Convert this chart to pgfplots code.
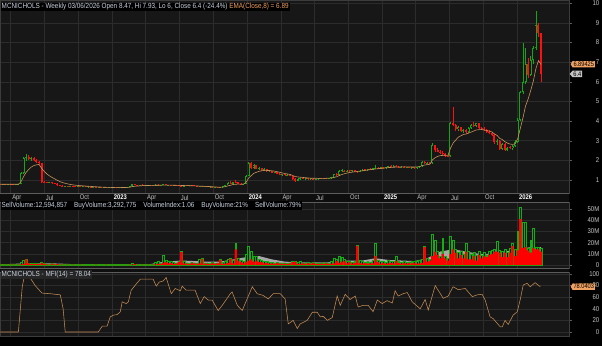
\documentclass[border=0pt]{standalone}
\usepackage{pgfplots}
\pgfplotsset{compat=1.18}
\usepackage{pgfplotstable}
\usepackage{fontspec}
\setmainfont{Liberation Sans}
\newfontfamily\cf[FakeStretch=0.86]{Liberation Sans}
\usetikzlibrary{shapes.symbols}
\definecolor{panelbg}{HTML}{171717}
\definecolor{gridc}{HTML}{2C2C2C}
\definecolor{framec}{HTML}{3C3C3C}
\definecolor{stripc}{HTML}{0E0E0E}
\definecolor{stripline}{HTML}{5C5C5C}
\definecolor{cgreen}{HTML}{12A812}
\definecolor{cred}{HTML}{FF1010}
\definecolor{vgreen}{HTML}{10B010}
\definecolor{vred}{HTML}{FF0000}
\definecolor{vgray}{HTML}{A6A6A6}
\definecolor{emac}{HTML}{C8925C}
\definecolor{mfic}{HTML}{C48C54}
\definecolor{txt}{HTML}{C8D0DE}
\definecolor{lab}{HTML}{C4C4C4}
\definecolor{orng}{HTML}{F0A060}

\pgfplotstableread{
i o h l c v s
0 .80 .82 .76 .78 .6 .4
1 .78 .80 .76 .79 .5 .2
2 .79 .80 .75 .76 .5 .3
3 .76 .78 .74 .77 .4 .2
4 .77 .79 .75 .76 .5 .3
5 .76 .78 .74 .75 .6 .4
6 .75 .77 .73 .76 .5 .2
7 .76 .80 .74 .78 .8 .3
8 .78 1.40 .77 1.35 2.5 .6
9 1.35 2.15 1.30 2.10 4.5 1.0
10 2.10 2.30 1.98 2.15 5.4 5.0
11 2.15 2.25 2.00 2.05 2.0 1.5
12 2.05 2.15 1.98 2.10 1.5 .8
13 2.10 2.15 1.95 2.00 1.2 .9
14 2.00 2.05 1.85 1.90 1.3 1.0
15 1.90 1.95 1.80 1.85 1.0 .7
16 1.85 1.88 .85 .90 2.2 2.0
17 .90 .95 .85 .88 1.2 1.0
18 .88 .92 .84 .86 .8 .6
19 .86 .90 .83 .87 .7 .4
20 .87 .90 .82 .84 1.5 1.2
21 .84 .86 .80 .82 .8 .6
22 .82 .84 .70 .72 1.0 .8
23 .72 .75 .68 .70 .6 .4
24 .70 .72 .66 .68 .5 .4
25 .68 .71 .66 .69 .4 .2
26 .69 .70 .66 .68 .4 .3
27 .68 .70 .66 .68 .3 .2
28 .68 .69 .65 .67 .4 .3
29 .67 .69 .65 .66 .3 .2
30 .66 .68 .64 .67 .3 .2
31 .67 .68 .64 .65 .4 .3
32 .65 .67 .63 .66 .3 .2
33 .66 .67 .63 .64 .3 .2
34 .64 .66 .62 .65 .4 .2
35 .65 .66 .62 .63 .3 .2
36 .63 .65 .61 .64 .3 .2
37 .64 .65 .61 .62 .4 .3
38 .62 .64 .60 .63 .3 .2
39 .63 .64 .60 .61 .3 .2
40 .61 .63 .59 .62 .3 .2
41 .62 .63 .59 .60 .4 .3
42 .60 .62 .58 .61 .3 .2
43 .61 .62 .58 .60 .3 .2
44 .60 .62 .58 .61 .3 .2
45 .61 .62 .59 .60 .3 .2
46 .60 .62 .58 .61 .4 .2
47 .61 .63 .59 .60 .3 .2
48 .60 .62 .58 .61 .3 .2
49 .61 .66 .60 .65 .6 .2
50 .65 .70 .63 .68 .8 .3
51 .68 .82 .66 .78 1.5 .4
52 .78 .80 .72 .74 1.0 .7
53 .74 .76 .71 .72 .6 .4
54 .72 .76 .70 .75 .5 .2
55 .75 .77 .72 .73 .5 .3
56 .73 .76 .71 .74 .4 .2
57 .74 .75 .70 .71 .5 .3
58 .71 .74 .70 .73 .4 .2
59 .73 .75 .70 .72 .5 .3
60 .72 .78 .71 .76 2.5 .5
61 .76 .78 .72 .73 3.0 1.2
62 .73 .76 .71 .75 2.0 .8
63 .75 .80 .73 .77 9.0 2.0
64 .77 .78 .72 .73 4.0 2.5
65 .73 .76 .71 .74 3.5 1.5
66 .74 .76 .70 .71 3.0 2.0
67 .71 .74 .70 .73 2.5 1.0
68 .73 .75 .70 .72 2.0 1.2
69 .72 .74 .69 .70 3.0 2.5
70 .70 .72 .66 .68 12.0 11.5
71 .68 .72 .67 .71 3.0 1.5
72 .71 .73 .68 .70 2.0 1.2
73 .70 .73 .68 .72 1.5 .8
74 .72 .74 .69 .70 2.5 1.8
75 .70 .72 .67 .69 2.0 1.4
76 .69 .71 .66 .67 1.5 1.0
77 .67 .70 .65 .69 5.0 1.5
78 .69 .70 .65 .66 6.0 5.5
79 .66 .68 .64 .67 2.0 1.2
80 .67 .68 .63 .64 1.8 1.3
81 .64 .66 .62 .65 1.5 .8
82 .65 .66 .61 .62 2.5 2.0
83 .62 .64 .60 .63 1.5 .9
84 .63 .64 .60 .61 2.0 1.5
85 .61 .63 .59 .62 5.0 4.6
86 .62 .70 .61 .68 2.5 .8
87 .68 .75 .66 .73 3.0 1.2
88 .73 .88 .72 .85 5.5 2.0
89 .85 .95 .80 .82 6.0 5.5
90 .82 .92 .80 .90 4.0 1.5
91 .90 1.02 .85 .88 19.6 14.0
92 .88 .90 .80 .82 6.0 4.0
93 .82 .84 .76 .78 4.0 2.8
94 .78 .82 .76 .80 3.0 1.5
95 .80 1.25 .79 1.20 10.0 3.0
96 1.20 1.92 1.18 1.85 16.6 4.0
97 1.85 1.90 1.55 1.62 12.0 5.0
98 1.62 1.80 1.58 1.75 8.0 3.0
99 1.75 1.78 1.55 1.58 7.7 4.0
100 1.58 1.65 1.50 1.60 5.0 2.5
101 1.60 1.62 1.48 1.52 4.0 2.5
102 1.52 1.60 1.48 1.56 3.5 1.5
103 1.56 1.58 1.42 1.45 3.0 2.0
104 1.45 1.50 1.40 1.47 2.5 1.2
105 1.47 1.48 1.35 1.38 2.5 1.5
106 1.38 1.42 1.33 1.40 2.0 1.0
107 1.40 1.42 1.28 1.30 2.5 1.8
108 1.30 1.33 1.24 1.26 2.0 1.2
109 1.26 1.30 1.22 1.28 1.8 .9
110 1.28 1.30 1.22 1.24 2.0 1.3
111 1.24 1.28 1.20 1.26 1.5 .8
112 1.26 1.28 1.18 1.20 2.0 1.5
113 1.20 1.22 1.02 1.05 3.0 2.5
114 1.05 1.08 .90 .95 3.5 3.0
115 .95 1.08 .93 1.05 2.5 1.0
116 1.05 1.12 1.00 1.10 3.0 1.2
117 1.10 1.12 1.03 1.05 2.0 1.4
118 1.05 1.10 1.02 1.08 1.8 .9
119 1.08 1.10 1.02 1.04 2.2 1.6
120 1.04 1.08 1.00 1.06 2.0 1.0
121 1.06 1.08 1.00 1.02 2.5 1.8
122 1.02 1.06 .99 1.05 1.5 .7
123 1.05 1.10 1.02 1.08 2.0 1.0
124 1.08 1.10 1.03 1.05 1.8 1.2
125 1.05 1.12 1.04 1.10 2.5 1.0
126 1.10 1.12 1.05 1.07 2.0 1.4
127 1.07 1.12 1.05 1.10 2.0 1.0
128 1.10 1.15 1.07 1.12 3.0 1.2
129 1.12 1.30 1.10 1.28 6.0 1.5
130 1.28 1.35 1.20 1.24 5.0 3.5
131 1.24 1.50 1.22 1.45 8.0 2.0
132 1.45 1.55 1.40 1.48 7.0 3.0
133 1.48 1.52 1.40 1.43 5.0 3.5
134 1.43 1.50 1.40 1.47 3.0 1.5
135 1.47 1.52 1.42 1.45 3.5 2.5
136 1.45 1.50 1.40 1.48 2.5 1.2
137 1.48 1.52 1.43 1.46 3.0 2.0
138 1.46 1.48 1.38 1.42 18.0 17.0
139 1.42 1.50 1.40 1.48 4.0 1.8
140 1.48 1.55 1.45 1.52 3.0 1.2
141 1.52 1.56 1.47 1.50 2.5 1.6
142 1.50 1.58 1.48 1.55 3.0 1.3
143 1.55 1.60 1.50 1.53 2.5 1.5
144 1.53 1.62 1.51 1.60 4.0 1.5
145 1.60 1.75 1.55 1.62 19.0 8.0
146 1.62 1.65 1.55 1.58 4.0 2.5
147 1.58 1.66 1.56 1.64 3.0 1.3
148 1.64 1.68 1.58 1.60 3.0 2.0
149 1.60 1.66 1.58 1.64 2.5 1.2
150 1.64 1.72 1.62 1.70 4.0 1.5
151 1.70 1.75 1.64 1.66 3.0 2.0
152 1.66 1.74 1.64 1.72 3.5 1.5
153 1.72 1.78 1.66 1.68 8.0 3.5
154 1.68 1.72 1.62 1.65 3.0 2.0
155 1.65 1.70 1.60 1.68 2.5 1.2
156 1.68 1.70 1.62 1.64 3.0 2.0
157 1.64 1.68 1.60 1.66 2.5 1.2
158 1.66 1.68 1.60 1.62 2.8 1.8
159 1.62 1.66 1.58 1.64 3.0 1.5
160 1.64 1.66 1.58 1.61 3.5 2.2
161 1.61 1.66 1.58 1.64 3.0 1.2
162 1.64 1.72 1.62 1.70 4.0 1.5
163 1.70 1.96 1.68 1.93 5.0 2.0
164 1.93 1.95 1.80 1.84 17.0 16.0
165 1.84 1.92 1.82 1.88 6.0 3.0
166 1.88 1.92 1.80 1.84 5.0 3.5
167 1.84 2.86 1.82 2.78 27.7 8.0
168 2.78 2.80 2.45 2.52 22.0 12.0
169 2.52 2.62 2.40 2.45 12.0 9.0
170 2.45 2.55 2.30 2.38 8.0 6.0
171 2.38 2.50 2.25 2.30 23.5 10.0
172 2.30 2.35 2.18 2.22 8.0 6.0
173 2.22 2.30 2.15 2.20 6.0 4.0
174 2.20 3.95 2.18 3.90 25.5 10.0
175 3.90 4.70 3.75 3.80 22.0 14.0
176 3.80 3.85 3.50 3.58 14.0 11.0
177 3.58 3.75 3.50 3.70 11.0 6.0
178 3.70 3.72 3.45 3.50 12.0 9.0
179 3.50 3.62 3.40 3.55 10.0 6.0
180 3.55 3.58 3.35 3.42 19.0 12.0
181 3.42 3.70 3.40 3.65 12.0 5.0
182 3.65 3.85 3.60 3.80 10.0 5.0
183 3.80 3.95 3.70 3.75 11.0 8.0
184 3.75 3.92 3.70 3.88 9.0 4.0
185 3.88 3.90 3.62 3.66 12.0 9.0
186 3.66 3.72 3.55 3.60 9.0 6.0
187 3.60 3.70 3.50 3.55 11.0 8.0
188 3.55 3.60 3.40 3.45 9.0 7.0
189 3.45 3.55 3.35 3.40 12.0 9.0
190 3.40 3.45 3.25 3.30 13.0 10.0
191 3.30 3.35 2.85 2.95 14.0 12.0
192 2.95 3.10 2.80 3.00 21.0 12.0
193 3.00 3.05 2.55 2.60 13.0 11.0
194 2.60 2.90 2.55 2.85 12.0 7.0
195 2.85 2.90 2.50 2.55 14.0 11.0
196 2.55 2.70 2.48 2.65 11.0 7.0
197 2.65 2.75 2.58 2.62 15.0 11.0
198 2.62 2.80 2.55 2.75 19.0 17.0
199 2.75 3.05 2.70 2.95 14.0 8.0
200 2.95 4.15 2.90 4.07 30.0 13.0
201 4.07 5.55 4.00 5.50 52.0 41.0
202 5.50 8.00 5.40 6.00 38.0 15.0
203 6.00 7.70 5.90 6.90 38.0 16.0
204 6.90 7.20 6.20 6.35 15.0 13.0
205 6.35 7.30 6.30 7.10 22.0 11.0
206 7.10 7.80 6.90 7.70 33.0 15.0
207 7.70 9.60 7.60 8.90 16.0 14.0
208 8.90 9.00 8.30 8.50 16.0 14.0
209 8.47 8.50 6.00 6.40 15.0 12.0
}\ohlc

\pgfplotsset{
  panel/.style={
    scale only axis, width=569pt,
    xmin=-0.1, xmax=219.8,
    axis background/.style={fill=panelbg},
    axis line style={draw=framec, line width=0.5pt},
    grid=major, major grid style={draw=gridc, line width=0.5pt},
    xtick={4.0,17.0,30.14,43.29,56.14,69.14,82.29,95.43,108.43,121.43,134.57,147.71,160.57,173.57,186.71,199.86},
    xticklabels={}, xtick style={draw=none},
    ytick pos=right, yticklabel pos=right,
    tick align=outside, major tick length=2.5pt,
    ytick style={draw=stripline, line width=0.4pt},
    yticklabel style={anchor=east, xshift=28pt, inner sep=0pt, font=\fontsize{7}{8}\cf, text=lab},
    clip mode=individual,
  },
  stick/.style={mark=none, forget plot},
}

\begin{document}
\begin{tikzpicture}
\path[use as bounding box, fill=black] (0pt,0pt) rectangle (602pt,346pt);
\fill[stripc] (0pt,144pt) rectangle (569pt,153pt);
\fill[stripc] (0pt,74pt) rectangle (569pt,78pt);

% ---------------- price panel
\begin{axis}[panel, at={(0pt,153pt)}, anchor=south west, height=193pt,
  ymin=0.336, ymax=10.168,
  ytick={1,2,3,4,5,6,7,8,9,10},
  yticklabels={1,2,3,4,5,6,7,8,9,10},
  xticklabels={Apr,Jul,Oct,\textbf{\color{white}2023},Apr,Jul,Oct,\textbf{\color{white}2024},Apr,Jul,Oct,\textbf{\color{white}2025},Apr,Jul,Oct,\textbf{\color{white}2026}},
  xticklabel style={anchor=north west, inner sep=0pt, xshift=1.5pt, yshift=0.5pt, font=\fontsize{6.8}{7}\cf, text=lab},
]
% wicks (green for rising weeks, red for falling weeks)
\addplot[stick, cgreen, line width=0.6pt,
  quiver={u=0, v={(\thisrow{c}>=\thisrow{o})*(\thisrow{h}-\thisrow{l})}}]
  table[x=i, y=l] {\ohlc};
\addplot[stick, cred, line width=0.6pt,
  quiver={u=0, v={(\thisrow{c}<\thisrow{o})*(\thisrow{h}-\thisrow{l})}}]
  table[x=i, y=l] {\ohlc};
% bodies (rising weeks hollow)
\addplot[stick, cgreen, line width=2.0pt,
  quiver={u=0, v={(\thisrow{c}>=\thisrow{o})*max(\thisrow{c}-\thisrow{o},0.035)}}]
  table[x=i, y=o] {\ohlc};
\addplot[stick, panelbg, line width=0.8pt,
  quiver={u=0, v={(\thisrow{c}>=\thisrow{o})*max(\thisrow{c}-\thisrow{o}-0.1,0)}}]
  table[x=i, y expr=\thisrow{o}+0.05] {\ohlc};
\addplot[stick, cred, line width=2.0pt,
  quiver={u=0, v={(\thisrow{c}<\thisrow{o})*max(\thisrow{o}-\thisrow{c},0.035)}}]
  table[x=i, y=c] {\ohlc};
% EMA(8)
\addplot[emac, line width=0.6pt, mark=none] coordinates {
(0,.78) (7,.78) (8,.907) (9,1.172) (10,1.389) (11,1.536) (12,1.661) (13,1.736) (14,1.772) (15,1.789) (16,1.592) (17,1.434) (18,1.307) (19,1.21) (20,1.128) (21,1.06) (22,.984) (23,.921) (24,.868) (26,.80) (28,.75) (30,.72) (35,.67) (40,.63) (45,.61) (49,.62) (50,.63) (51,.66) (52,.68) (55,.71) (60,.73) (65,.74) (70,.72) (75,.70) (80,.67) (85,.63) (86,.64) (87,.66) (88,.70) (89,.73) (90,.77) (92,.79) (94,.79) (95,.88) (96,1.10) (97,1.22) (98,1.34) (99,1.39) (100,1.44) (102,1.49) (104,1.48) (106,1.45) (108,1.39) (110,1.33) (112,1.28) (113,1.23) (114,1.17) (116,1.14) (120,1.09) (125,1.08) (128,1.10) (129,1.14) (130,1.16) (131,1.23) (133,1.32) (135,1.38) (140,1.47) (145,1.56) (150,1.63) (155,1.67) (160,1.66) (162,1.67) (163,1.73) (164,1.76) (166,1.80) (167,2.02) (168,2.13) (169,2.20) (170,2.24) (172,2.26) (173,2.25) (174,2.62) (175,2.88) (176,3.03) (177,3.18) (178,3.25) (179,3.32) (180,3.34) (182,3.44) (184,3.55) (186,3.57) (188,3.52) (190,3.45) (191,3.34) (192,3.27) (193,3.12) (194,3.06) (195,2.95) (196,2.88) (197,2.83) (198,2.81) (199,2.84) (200,3.11) (201,3.64) (202,4.16) (203,4.77) (204,5.12) (205,5.56) (206,6.03) (207,6.67) (208,7.08) (209,6.89)};
\node[signal, signal to=west, signal pointer angle=120, fill=orng, text=black, inner sep=0.9pt, anchor=west, xshift=1.5pt, font=\fontsize{6.6}{7}\cf] at (axis cs:219.8,6.89425) {6.89425};
\node[signal, signal to=west, signal pointer angle=100, fill=lab, text=black, inner sep=0.9pt, anchor=west, xshift=0.5pt, font=\fontsize{6.6}{7}\cf] at (axis cs:219.8,6.4) {6.4};
\end{axis}

% ---------------- volume panel
\begin{axis}[panel, at={(0pt,78pt)}, anchor=south west, height=66pt,
  ymin=-2.68, ymax=56.25,
  ytick={0,10,20,30,40,50},
  yticklabels={0,10M,20M,30M,40M,50M},
]
\addplot[fill=vgray, draw=none, forget plot] coordinates {
(0,0.5) (10,1.5) (20,1.5) (30,0.6) (50,0.5) (58,0.8) (62,2.5) (70,4) (75,3.5) (80,3) (85,3) (90,5) (95,7) (100,8) (105,5) (110,3) (115,2.5) (120,2.2) (128,2.5) (133,4) (140,4) (145,6) (150,4.5) (160,3.5) (165,6) (170,12) (175,14) (180,12) (185,10) (190,10) (195,12) (200,14) (205,16) (209,16)} \closedcycle;
\addplot[ybar, bar width=1.9pt, bar shift=0pt, draw=vgreen, line width=0.45pt, fill=panelbg, forget plot] table[x=i, y=v] {\ohlc};
\addplot[ybar, bar width=2.3pt, bar shift=0pt, draw=none, fill=vred, forget plot] table[x=i, y=s] {\ohlc};
\end{axis}

% ---------------- MFI panel
\begin{axis}[panel, at={(0pt,10pt)}, anchor=south west, height=64pt,
  ymin=-6.9, ymax=103.4,
  ytick={0,20,40,60,80,100},
  yticklabels={0,20,40,60,80,100},
]
\addplot[mfic, line width=0.55pt, mark=none] coordinates {
(0,0) (7,0) (8.5,78) (9.3,96) (10.4,98) (11.6,93) (13.5,80) (15.5,70) (16.2,67) (19.3,66) (23.2,64) (24.3,40) (25.1,0) (37.9,0) (39.4,10) (41.3,10) (42.5,26) (43.7,29) (45.2,30) (46.4,35) (47.1,52) (48.7,49) (49.5,52) (50.6,72) (52.6,83) (54.1,91) (59.1,91) (60.3,79) (61.4,86) (63.0,88) (64.1,94) (66.1,66) (67.6,75) (69.6,71) (70.3,79) (71.9,72) (75.3,72) (77.3,49) (78.8,61) (80.4,55) (81.9,55) (84.2,37) (85.8,46) (88.9,66) (89.6,69) (91.6,46) (93.5,37) (97.4,78) (99.3,66) (101.6,63) (103.6,57) (105.5,66) (108.2,66) (110.1,57) (111.3,14) (113.2,20) (114.8,6) (115.9,14) (118.6,20) (120.6,34) (122.5,34) (123.7,26) (124.8,27) (126.4,20) (128.3,25) (130.2,62) (131.4,46) (133.3,65) (135.2,56) (137.2,62) (138.3,43) (140.3,46) (142.2,46) (144.1,35) (145.7,55) (147.6,49) (149.5,54) (151.5,50) (152.6,71) (153.8,62) (155.7,66) (157.3,68) (159.2,52) (162.3,40) (164.2,56) (165.4,38) (168.1,80) (171.2,58) (173.1,62) (175.0,78) (177.0,73) (179.7,75) (182.4,61) (184.3,64) (186.2,65) (187.4,55) (189.3,26) (190.5,23) (193.2,9) (194.0,9) (195.1,20) (196.3,13) (198.2,29) (199.8,35) (200.9,55) (202.1,81) (203.6,84) (204.8,78) (206.7,85) (208.7,78.04)};
\node[signal, signal to=west, signal pointer angle=120, fill=orng, text=black, inner sep=0.9pt, anchor=west, xshift=1.5pt, font=\fontsize{6.6}{7}\cf] at (axis cs:219.8,78.04) {78.0403};
\end{axis}

% strip and separator lines
\draw[stripline, line width=0.6pt] (0pt,153pt) -- (569pt,153pt);
\draw[stripline, line width=0.6pt] (0pt,144pt) -- (569pt,144pt);
\draw[stripline, line width=0.6pt] (0pt,78pt) -- (569pt,78pt);
\draw[stripline, line width=0.6pt] (0pt,74pt) -- (569pt,74pt);

% headers
\node[anchor=west, fill=black, inner sep=1pt, font=\fontsize{7.4}{8}\cf, text=txt] at (0.5pt,339pt)
  {MCNICHOLS - Weekly 03/06/2026 Open 8.47, Hi 7.93, Lo 6, Close 6.4 (-24.4\%) \textcolor{orng}{EMA(Close,8) = 6.89}};
\node[anchor=west, fill=black, inner sep=1pt, font=\fontsize{7.4}{8}\cf, text=txt] at (0.5pt,140.3pt)
  {SellVolume:12,594,857\hspace{7pt}BuyVolume:3,292,775\hspace{7pt}VolumeIndex:1.06\hspace{7pt}BuyVolume:21\%\hspace{7pt}SellVolume:79\%};
\node[anchor=west, fill=black!85!white, inner sep=1pt, font=\fontsize{7.4}{8}\cf, text=txt] at (0.5pt,71.5pt)
  {MCNICHOLS - MFI(14) = 78.04};
\end{tikzpicture}
\end{document}
